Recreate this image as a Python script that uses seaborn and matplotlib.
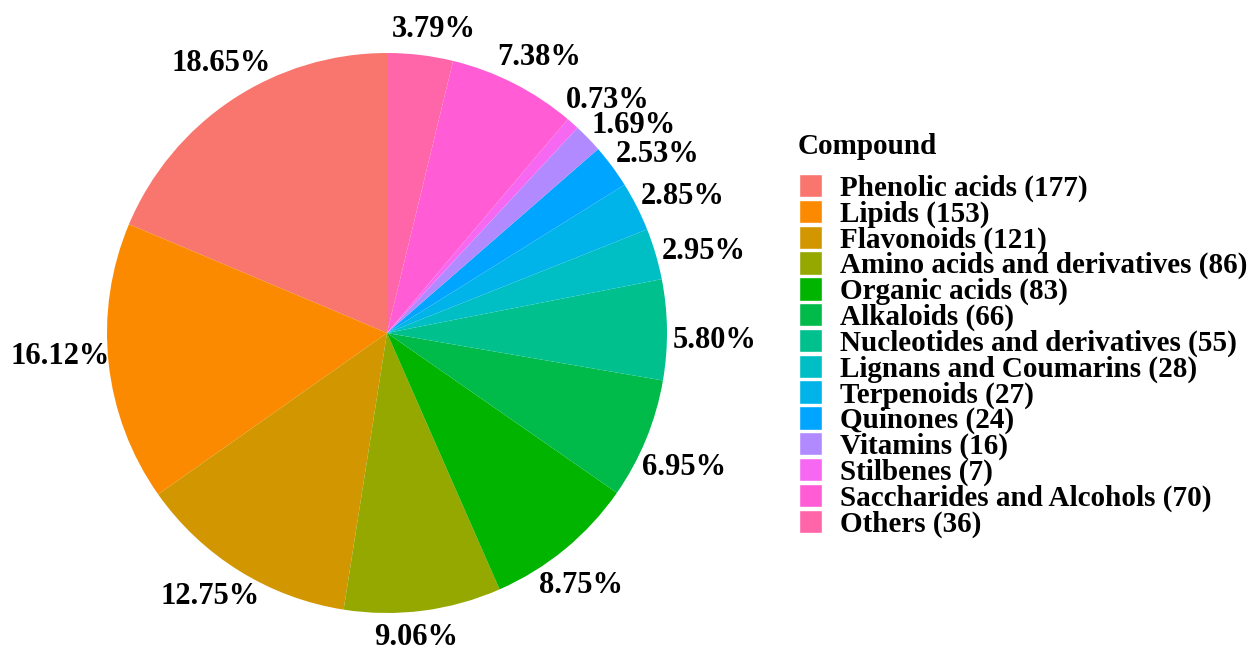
import numpy as np
import matplotlib
matplotlib.use("Agg")
import matplotlib.pyplot as plt
from matplotlib.patches import Patch
import seaborn as sns

compounds = [
    "Phenolic acids", "Lipids", "Flavonoids", "Amino acids and derivatives",
    "Organic acids", "Alkaloids", "Nucleotides and derivatives",
    "Lignans and Coumarins", "Terpenoids", "Quinones", "Vitamins",
    "Stilbenes", "Saccharides and Alcohols", "Others",
]
counts = [177, 153, 121, 86, 83, 66, 55, 28, 27, 24, 16, 7, 70, 36]
# percentage labels as printed on the chart
pct_labels = ["18.65%", "16.12%", "12.75%", "9.06%", "8.75%", "6.95%", "5.80%",
              "2.95%", "2.85%", "2.53%", "1.69%", "0.73%", "7.38%", "3.79%"]
colors = [
    "#F8766D", "#FC8A00", "#D29600", "#94A800", "#00B400", "#00BA4A",
    "#00C08E", "#00BFC4", "#00B4EA", "#00A5FF", "#B28AFF", "#F768F2",
    "#FF5CD5", "#FF66AA",
]

sns.set_theme(style="white")
plt.rcParams["font.family"] = ["Liberation Serif", "DejaVu Serif"]
plt.rcParams["font.weight"] = "bold"
plt.rcParams["text.color"] = "black"

W, H = 1259, 650
fig = plt.figure(figsize=(W / 100, H / 100), dpi=100)

# pie centre / radius in pixels
cx, cy, R = 387, 333, 280
half = 317
ax = fig.add_axes([(cx - half) / W, (H - cy - half) / H, 2 * half / W, 2 * half / H])

wedges, _ = ax.pie(counts, colors=colors, startangle=90, counterclock=True,
                   radius=1, wedgeprops=dict(linewidth=0))
ax.set_xlim(-half / R, half / R)
ax.set_ylim(-half / R, half / R)
ax.set_aspect("equal")
ax.axis("off")

# label angles: slice middle, walked clockwise from the top so that
# the small slices' labels keep a minimum gap
mids = [(w.theta1 + w.theta2) / 2 for w in wedges]
label_ang = {}
prev = None
for i in reversed(range(len(wedges))):
    a = mids[i] - 2
    if prev is not None and a > prev - 6.5:
        a = prev - 6.5
    label_ang[i] = a
    prev = a

for i, lab in enumerate(pct_labels):
    t = np.deg2rad(label_ang[i])
    r = 1.083 + 0.089 * abs(np.cos(t))
    ax.text(r * np.cos(t), r * np.sin(t), lab,
            ha="center", va="center", fontsize=22, fontweight="bold",
            color="black", clip_on=False)

fig.text(798 / W, 1 - 147 / H, "Compound", ha="left", va="center",
         fontsize=21, fontweight="bold", color="black")

handles = [Patch(facecolor=c, edgecolor="white", linewidth=1.0) for c in colors]
labels = [f"{n} ({c})" for n, c in zip(compounds, counts)]
leg = fig.legend(handles, labels, loc="upper left",
                 bbox_to_anchor=(799 / W, 1 - 174 / H), frameon=False,
                 fontsize=21, labelcolor="black",
                 handlelength=0.8, handleheight=0.85, handletextpad=0.6,
                 labelspacing=-0.077, borderaxespad=0, borderpad=0)

fig.savefig("out.png", dpi=100)
